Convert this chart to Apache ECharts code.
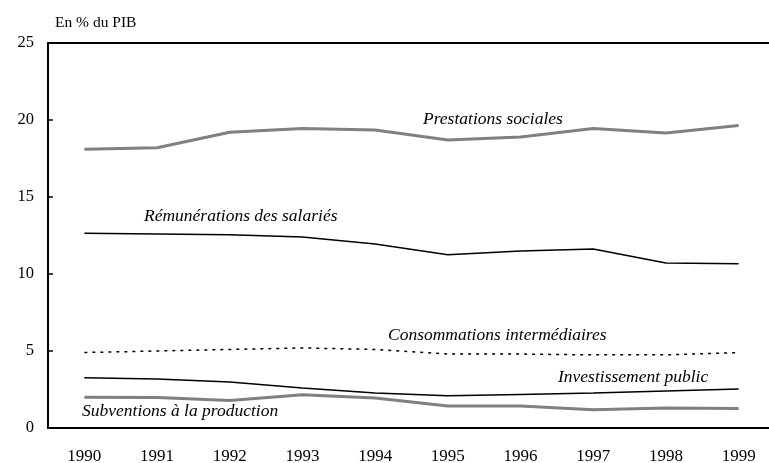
<!DOCTYPE html>
<html><head><meta charset="utf-8">
<script src="https://cdn.jsdelivr.net/npm/echarts@6/dist/echarts.min.js"></script>
<style>html,body{margin:0;padding:0;background:#fff}#c{width:769px;height:463px}</style>
</head><body><div id="c"></div>
<script>
const years = ['1990','1991','1992','1993','1994','1995','1996','1997','1998','1999'];
const prestations = [18.1, 18.2, 19.2, 19.45, 19.35, 18.7, 18.9, 19.45, 19.15, 19.65];
const remunerations = [12.65, 12.6, 12.55, 12.4, 11.95, 11.25, 11.5, 11.63, 10.71, 10.66];
const consommations = [4.9, 5.0, 5.1, 5.2, 5.1, 4.8, 4.8, 4.75, 4.75, 4.9];
const investissement = [3.26, 3.18, 2.98, 2.6, 2.27, 2.1, 2.18, 2.27, 2.4, 2.53];
const subventions = [1.99, 1.98, 1.79, 2.16, 1.95, 1.43, 1.43, 1.19, 1.3, 1.27];
const yTicks = [0, 5, 10, 15, 20, 25];

const F = '"Liberation Serif","Times New Roman",serif';
const chart = echarts.init(document.getElementById('c'));
function ln(name, data, color, width, type) {
  return { name, type: 'line', data, symbol: 'none', smooth: false, animation: false,
    lineStyle: { color, width, type: type || 'solid' } };
}
function lbl(text, x, y) {
  return { type: 'text', left: x, top: y, style: { text, font: 'italic 17.5px ' + F, fill: '#000' } };
}
chart.setOption({
  animation: false,
  grid: { left: 48, top: 43, bottom: 35, width: 727, show: false, containLabel: false, outerBoundsMode: 'none' },
  xAxis: [{
    type: 'category', data: years, boundaryGap: true,
    axisLine: { lineStyle: { color: '#000', width: 2 } },
    axisTick: { inside: true, length: 5, lineStyle: { color: '#000', width: 1.5 } },
    axisLabel: { color: '#000', fontFamily: F, fontSize: 17, margin: 20 }
  }, {
    type: 'category', data: years, position: 'top',
    axisLine: { lineStyle: { color: '#000', width: 2 } },
    axisTick: { show: false }, axisLabel: { show: false }
  }],
  yAxis: {
    type: 'value', min: yTicks[0], max: yTicks[yTicks.length - 1], interval: 5,
    splitLine: { show: false },
    axisLine: { show: true, lineStyle: { color: '#000', width: 2 } },
    axisTick: { show: true, inside: true, length: 5, lineStyle: { color: '#000', width: 1.5 } },
    axisLabel: { color: '#000', fontFamily: F, fontSize: 16.5, margin: 14 }
  },
  series: [
    ln('Prestations sociales', prestations, '#808080', 3),
    ln('Rémunérations des salariés', remunerations, '#000', 1.5),
    ln('Consommations intermédiaires', consommations, '#000', 1.5, [3, 5]),
    ln('Investissement public', investissement, '#000', 1.5),
    ln('Subventions à la production', subventions, '#808080', 3)
  ],
  graphic: [
    { type: 'text', left: 55, top: 15, style: { text: 'En % du PIB', font: '15.5px ' + F, fill: '#000' } },
    lbl('Prestations sociales', 423, 110),
    lbl('Rémunérations des salariés', 144, 207),
    lbl('Consommations intermédiaires', 388, 326),
    lbl('Investissement public', 558, 368),
    lbl('Subventions à la production', 82, 402)
  ]
});
</script></body></html>
